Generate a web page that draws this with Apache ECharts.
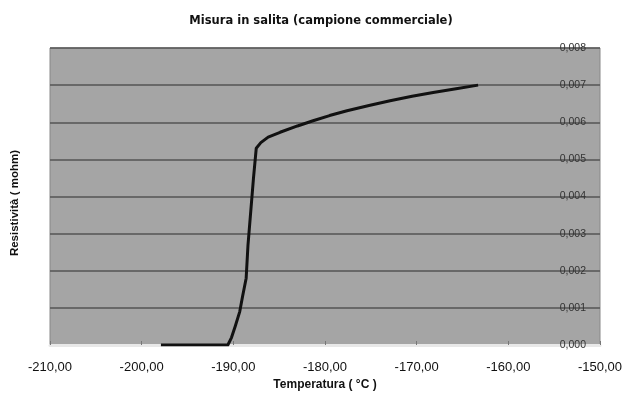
<!DOCTYPE html>
<html><head><meta charset="utf-8">
<script src="https://cdn.jsdelivr.net/npm/echarts@6/dist/echarts.min.js"></script>
<style>html,body{margin:0;padding:0;background:#fff}#c{width:628px;height:396px}</style>
</head><body><div id="c"></div>
<script>
const temperature = [-197.9, -194.0, -190.6, -190.2, -189.8, -189.3, -189.0, -188.6, -188.4, -188.1, -187.8, -187.5, -187.0, -186.2, -184.9, -183.0, -181.3, -179.5, -177.6, -175.2, -172.9, -170.5, -168.2, -165.7, -163.3];
const resistivity = [0.0000, 0.0000, 0.0000, 0.0002, 0.0005, 0.0009, 0.0013, 0.0018, 0.0027, 0.0036, 0.0045, 0.0053, 0.00545, 0.0056, 0.00573, 0.0059, 0.00604, 0.00618, 0.00631, 0.00645, 0.00658, 0.0067, 0.0068, 0.0069, 0.0070];
const xTicks = [-210, -200, -190, -180, -170, -160, -150];
const yTicks = [0, 0.001, 0.002, 0.003, 0.004, 0.005, 0.006, 0.007, 0.008];

const chart = echarts.init(document.getElementById('c'));
chart.setOption({
  animation: false,
  title: {text: 'Misura in salita (campione commerciale)', left: 316, top: 10, textAlign: 'center',
    textStyle: {fontFamily: 'DejaVu Sans', fontWeight: 'bold', fontSize: 11.5, color: '#111'}},
  grid: {left: 50, right: 28, top: 48, bottom: 48, show: true, backgroundColor: '#a5a5a5', borderColor: '#888', borderWidth: 1},
  xAxis: {type: 'value', min: xTicks[0], max: xTicks[xTicks.length-1], interval: 10,
    name: 'Temperatura ( °C )', nameLocation: 'middle', nameGap: 34,
    nameTextStyle: {fontFamily: 'Liberation Sans', fontWeight: 'bold', fontSize: 12, color: '#111'},
    axisLine: {show: true, lineStyle: {color: '#e8e8e8', width: 3}},
    axisTick: {show: true, inside: true, length: 4, lineStyle: {color: '#777'}},
    splitLine: {show: false},
    axisLabel: {margin: 16, fontFamily: 'Liberation Sans', fontSize: 13, color: '#111',
      formatter: v => v.toFixed(2).replace('.', ',')}},
  yAxis: {type: 'value', position: 'right', min: 0, max: 0.008, interval: 0.001,
    axisLine: {show: false}, axisTick: {show: false},
    splitLine: {show: true, lineStyle: {color: '#555', width: 1.5}},
    axisLabel: {inside: true, margin: 14, fontFamily: 'Liberation Sans', fontSize: 10.5, color: '#333',
      formatter: v => v.toFixed(3).replace('.', ',')}},
  graphic: [{type: 'text', left: 9, top: 150, rotation: Math.PI/2,
    style: {text: 'Resistività ( mohm)', font: 'bold 11.5px "Liberation Sans"', fill: '#111'}}],
  series: [{type: 'line', data: temperature.map((t, i) => [t, resistivity[i]]),
    smooth: false, symbol: 'none', lineStyle: {color: '#111', width: 3, join: 'round'}}]
});
</script></body></html>
